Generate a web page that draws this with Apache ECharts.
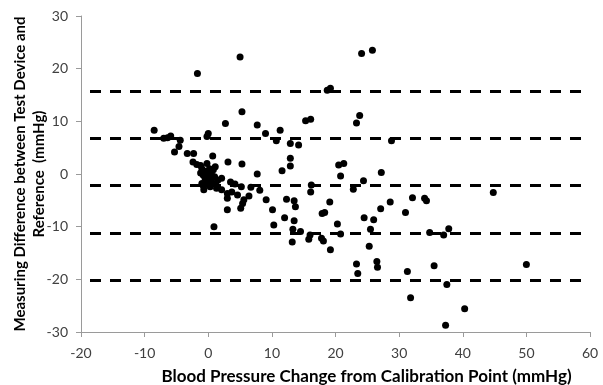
<!DOCTYPE html>
<html>
<head>
<meta charset="utf-8">
<script src="https://cdn.jsdelivr.net/npm/echarts@6/dist/echarts.min.js"></script>
<style>
html,body{margin:0;padding:0;background:#fff;}
#chart{width:603px;height:385px;}
</style>
</head>
<body>
<div id="chart"></div>
<script>
// Blood pressure change from calibration point (mmHg)
const bpChange = [
  -8.5, -7.0, -6.4, -5.9, -4.4, -4.6, -5.3, -3.3, -2.3, -2.4, -1.8, -1.2,
  -1.7, 0.0, -0.2, 0.7, -0.2, 1.1,
  -1.0, -0.5, -0.8, 0.0, 0.3, -0.3, 0.5, 1.0, -0.5, 0.2, 0.8, -1.2, 1.5, 0.5, -0.2,
  -1.0, -0.8, 0.3, 1.3, 2.1, -0.7, 1.15, 2.1,
  3.1, 5.3, 3.5, 4.2, 5.2, 6.7, 8.1, 3.7, 3.0, 4.6, 6.4, 5.6, 5.4, 3.0, 3.0, 5.1, 0.9,
  5.0, 5.3, 2.7, 7.7, 9.0, 11.3, 10.7, 12.9, 14.2, 7.7, 11.6, 12.9, 12.9,
  15.3, 16.1, 19.2, 18.7, 24.1, 25.8, 23.3, 23.8, 28.8, 20.5, 21.3, 20.8, 27.2,
  24.4, 22.8, 16.2, 16.1, 9.1, 10.1, 12.3, 13.5, 13.7, 19.1, 17.9, 18.3,
  12.0, 13.5, 10.3, 13.3, 14.5, 16.0, 17.8, 18.1, 20.3, 20.8, 24.5, 26.0, 25.5,
  27.1, 28.6, 31.0, 32.1, 34.0, 34.3, 34.8, 37.0, 37.8,
  13.2, 15.8, 19.2, 25.3, 23.3, 23.5, 26.5, 26.6, 31.3, 31.8, 35.5, 37.5, 37.3,
  44.8, 50.0, 40.3
];
// Measuring difference between test device and reference (mmHg)
const measDiff = [
  8.3, 6.8, 6.9, 7.2, 6.4, 5.2, 4.2, 3.9, 3.9, 2.3, 1.8, 1.6,
  19.1, 7.7, 7.1, 3.4, 2.0, 1.4,
  1.0, 0.5, -0.2, 0.0, -0.5, -1.0, 0.3, -0.5, -0.8, 1.0, 0.8, 0.2, -1.2, -1.5, -2.0,
  -1.8, -2.2, -2.4, -2.7, -3.0, -3.0, -1.8, -0.8,
  2.3, 1.9, -1.5, -1.9, -2.4, -2.5, -3.1, -3.4, -3.7, -4.0, -4.2, -4.9, -5.6, -4.6, -6.8, -6.5, -10.0,
  22.2, 11.8, 9.6, 9.3, 7.7, 8.3, 6.3, 5.8, 5.5, 0.0, 0.6, 3.0, 1.5,
  10.1, 10.4, 16.3, 15.9, 22.9, 23.5, 9.7, 11.1, 6.3, 1.7, 2.0, -0.4, 0.3,
  -1.3, -2.9, -2.1, -3.4, -4.9, -6.8, -4.8, -5.1, -6.2, -5.3, -7.5, -7.3,
  -8.3, -8.9, -9.7, -10.5, -10.9, -11.6, -12.2, -12.7, -9.5, -11.4, -8.3, -8.7, -10.5,
  -6.6, -5.3, -7.3, -4.5, -4.6, -5.1, -11.1, -11.6, -10.4,
  -12.9, -12.4, -14.4, -13.7, -17.1, -18.9, -16.6, -17.7, -18.5, -23.5, -17.4, -21.0, -28.7,
  -3.5, -17.2, -25.6
];
// Horizontal reference lines: mean and +/- 1 and 2 SD
const refLines = [15.8, 6.8, -2.2, -11.2, -20.2];

const xTitle = 'Blood Pressure Change from Calibration Point (mmHg)';
const yTitle = 'Measuring Difference between Test Device and\nReference  (mmHg)';

const points = bpChange.map((x, i) => [x, measDiff[i]]);

const chart = echarts.init(document.getElementById('chart'), null, {renderer: 'canvas'});
const FONT = 'Lato';
const axisCommon = {
  axisLine: {onZero: false, lineStyle: {color: '#9a9a9a', width: 1}},
  axisTick: {show: true, length: 5, lineStyle: {color: '#9a9a9a'}},
  splitLine: {show: false},
  axisLabel: {color: '#404040', fontFamily: FONT, fontSize: 14}
};
chart.setOption({
  animation: false,
  backgroundColor: '#fff',
  grid: {left: 81, right: 13, top: 16, bottom: 53, containLabel: false, outerBoundsMode: 'none'},
  xAxis: Object.assign({}, axisCommon, {
    type: 'value', min: -20, max: 60, interval: 10,
    axisLabel: Object.assign({}, axisCommon.axisLabel, {margin: 14}),
    name: xTitle, nameLocation: 'middle', nameGap: 36, nameMoveOverlap: false,
    nameTextStyle: {fontFamily: FONT, fontWeight: 'bold', fontSize: 17, color: '#000', padding: [0, 0, 0, 62]}
  }),
  yAxis: Object.assign({}, axisCommon, {
    type: 'value', min: -30, max: 30, interval: 10,
    axisLabel: Object.assign({}, axisCommon.axisLabel, {margin: 13}),
    name: yTitle, nameLocation: 'middle', nameGap: 32, nameMoveOverlap: false,
    nameTextStyle: {fontFamily: FONT, fontWeight: 'bold', fontSize: 15, color: '#000', lineHeight: 19, align: 'center'}
  }),
  series: [{
    type: 'scatter',
    data: points,
    symbol: 'circle',
    symbolSize: 7,
    itemStyle: {color: '#000', opacity: 1},
    markLine: {
      silent: true,
      symbol: ['none', 'none'],
      label: {show: false},
      lineStyle: {color: '#000', width: 3, type: [11, 9], dashOffset: 11, opacity: 1},
      data: refLines.map(v => ({yAxis: v}))
    }
  }]
});
</script>
</body>
</html>
